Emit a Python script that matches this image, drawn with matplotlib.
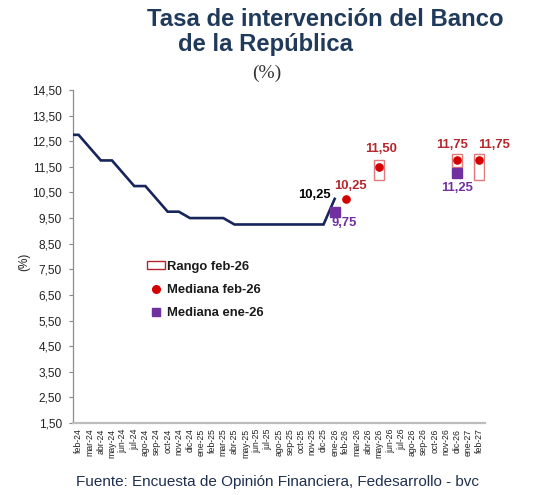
import matplotlib
matplotlib.use("Agg")
import matplotlib.pyplot as plt
from matplotlib.patches import Patch
from matplotlib.lines import Line2D
import numpy as np

plt.rcParams['font.family'] = ['Liberation Sans', 'DejaVu Sans']

# ---------------- data ----------------
categorias = ["ene-24",
              "feb-24", "mar-24", "abr-24", "may-24", "jun-24", "jul-24", "ago-24", "sep-24",
              "oct-24", "nov-24", "dic-24", "ene-25", "feb-25", "mar-25", "abr-25", "may-25",
              "jun-25", "jul-25", "ago-25", "sep-25", "oct-25", "nov-25", "dic-25", "ene-26",
              "feb-26", "mar-26", "abr-26", "may-26", "jun-26", "jul-26", "ago-26", "sep-26",
              "oct-26", "nov-26", "dic-26", "ene-27", "feb-27"]

tasa_meses = categorias[:25]  # ene-24 ... ene-26
tasa = [12.75, 12.75, 12.25, 11.75, 11.75, 11.25, 10.75, 10.75, 10.25, 9.75, 9.75, 9.50,
        9.50, 9.50, 9.50, 9.25, 9.25, 9.25, 9.25, 9.25, 9.25, 9.25, 9.25, 9.25, 10.25]

mediana_feb_meses = ["feb-26", "may-26", "dic-26", "feb-27"]
mediana_feb = [10.25, 11.50, 11.75, 11.75]

rango_meses = ["may-26", "dic-26", "feb-27"]
rango_min = [11.00, 11.50, 11.00]
rango_max = [11.75, 12.00, 12.00]

mediana_ene_meses = ["ene-26", "dic-26"]
mediana_ene = [9.75, 11.25]

y_ticks = np.arange(1.5, 14.51, 1.0)

# ---------------- styling ----------------
NAVY = "#17255A"
RED = "#D40000"
RED_TXT = "#B3262B"
BOX = "#E07A7A"
PURPLE = "#7030A0"
TITLE = "#1F3A5A"

def fmt(v):
    return f"{v:.2f}".replace(".", ",")

pos = {m: i for i, m in enumerate(categorias)}

fig = plt.figure(figsize=(5.36, 4.95), dpi=100)
ax = fig.add_axes([73/536, 72/495, 412/536, 333/495])

# line
ax.plot([pos[m] for m in tasa_meses], tasa, color=NAVY, lw=1.9, solid_joinstyle="miter", zorder=3)

# range boxes
rx = [pos[m] for m in rango_meses]
ax.bar(rx, np.array(rango_max) - np.array(rango_min), bottom=rango_min, width=0.9,
       facecolor="white", edgecolor=BOX, linewidth=1.0, zorder=2)

# medians
mx = [pos[m] for m in mediana_feb_meses]
ax.plot(mx, mediana_feb, linestyle="none", marker="o", markersize=5.2, color=RED, zorder=4)
ex = [pos[m] for m in mediana_ene_meses]
ax.plot(ex, mediana_ene, linestyle="none", marker="s", markersize=6.8, color=PURPLE, zorder=4)

# axes
ax.set_xlim(0.5, len(categorias) - 0.5)
ax.set_ylim(1.5, 14.5)
ax.set_yticks(y_ticks)
ax.set_yticklabels([fmt(v) for v in y_ticks], fontsize=8.6, color="#222222")
ax.set_xticks(range(1, len(categorias)))
ax.set_xticklabels(categorias[1:], rotation=90, fontsize=6.3, color="#222222")
ax.tick_params(axis="x", length=0, pad=4)
ax.tick_params(axis="y", length=3, width=0.8, color="#888888", pad=5)
for s in ["top", "right"]:
    ax.spines[s].set_visible(False)
ax.spines["left"].set_color("#8C8C8C")
ax.spines["left"].set_linewidth(0.9)
ax.spines["bottom"].set_color("#BDBDBD")
ax.spines["bottom"].set_linewidth(1.6)
ax.set_ylabel("(%)", fontsize=8.5, color="#222222")
ax.yaxis.set_label_coords(-0.104, 0.483)

# data labels
bold = dict(fontsize=9.4, fontweight="bold")
ax.annotate(fmt(tasa[-1]), (pos[tasa_meses[-1]], tasa[-1]), xytext=(-4, -2),
            textcoords="offset pixels", ha="right", va="bottom", color="black", **bold)
ax.annotate(fmt(mediana_feb[0]), (mx[0], mediana_feb[0]), xytext=(5, 7),
            textcoords="offset pixels", ha="center", va="bottom", color=RED_TXT, **bold)
ax.annotate(fmt(mediana_ene[0]), (ex[0], mediana_ene[0]), xytext=(10, -5),
            textcoords="offset pixels", ha="center", va="top", color=PURPLE, **bold)
offs = [2, -5, 15]
for i, m in enumerate(rango_meses):
    med = mediana_feb[mediana_feb_meses.index(m)]
    ax.annotate(fmt(med), (pos[m], rango_max[i]), xytext=(offs[i], 5 if i == 0 else 3),
                textcoords="offset pixels", ha="center", va="bottom", color=RED_TXT,
                annotation_clip=False, **bold)
ax.annotate(fmt(mediana_ene[1]), (ex[1], mediana_ene[1]), xytext=(0, -9),
            textcoords="offset pixels", ha="center", va="top", color=PURPLE, **bold)

# legend
handles = [Patch(facecolor="white", edgecolor=RED_TXT, linewidth=1.0),
           Line2D([], [], linestyle="none", marker="o", markersize=5.5, color=RED),
           Line2D([], [], linestyle="none", marker="s", markersize=5.5, color=PURPLE)]
labels = ["Rango feb-26", "Mediana feb-26", "Mediana ene-26"]
leg = fig.legend(handles, labels, loc="upper left", bbox_to_anchor=(147/536, 1 - 261/495),
                 frameon=False, prop=dict(size=9.4, weight="bold"), handlelength=1.35,
                 handleheight=0.55, handletextpad=0.2, labelspacing=0.85, borderaxespad=0,
                 borderpad=0)
for t in leg.get_texts():
    t.set_color("#1A1A1A")

# titles
fig.text(147/536, 1 - 20/495, "Tasa de intervención del Banco", fontsize=17.2, fontweight="bold",
         color=TITLE, ha="left", va="center")
fig.text(178/536, 1 - 45/495, "de la República", fontsize=17.2, fontweight="bold",
         color=TITLE, ha="left", va="center")
fig.text(267/536, 1 - 73/495, "(%)", fontsize=14, color="#333333", ha="center", va="center",
         family=["Liberation Serif", "DejaVu Serif"])
fig.text(278/536, 1 - 482/495, "Fuente: Encuesta de Opinión Financiera, Fedesarrollo - bvc",
         fontsize=11.0, color="#1F2F4F", ha="center", va="center")

fig.savefig("out.png", dpi=100)
